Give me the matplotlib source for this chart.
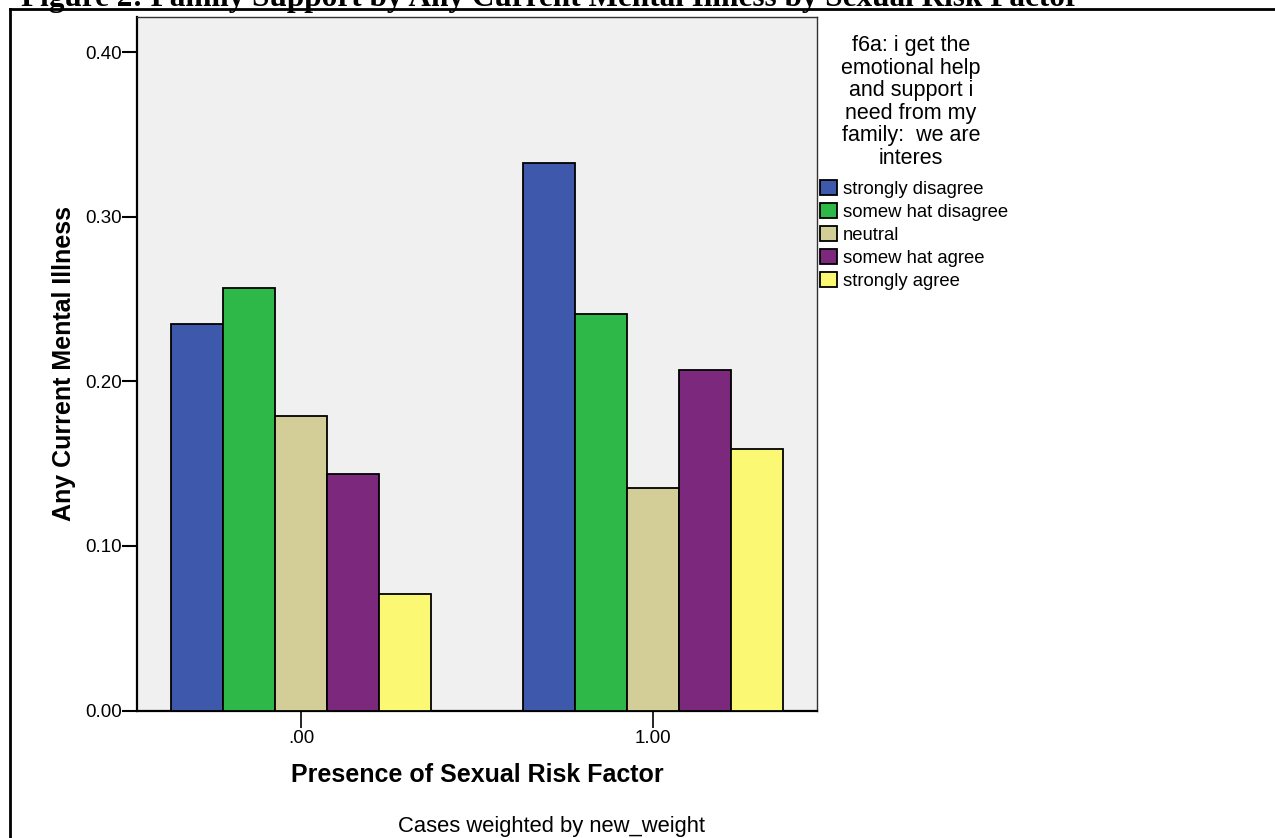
import matplotlib
matplotlib.use('Agg')
import matplotlib.pyplot as plt
from matplotlib.lines import Line2D
import numpy as np

plt.rcParams['font.family'] = ['Liberation Sans', 'DejaVu Sans']

# ---- data ----
groups = ['.00', '1.00']
categories = ['strongly disagree', 'somew hat disagree', 'neutral',
              'somew hat agree', 'strongly agree']
strongly_disagree = [0.235, 0.333]
somewhat_disagree = [0.257, 0.241]
neutral = [0.179, 0.135]
somewhat_agree = [0.144, 0.207]
strongly_agree = [0.071, 0.159]
series = [strongly_disagree, somewhat_disagree, neutral, somewhat_agree, strongly_agree]
colors = ['#3E58AC', '#2EB848', '#D3CE97', '#7B287D', '#FBF873']
yticks = [0.0, 0.1, 0.2, 0.3, 0.4]
ytick_labels = ['0.00', '0.10', '0.20', '0.30', '0.40']

legend_title = "f6a: i get the\nemotional help\nand support i\nneed from my\nfamily:  we are\ninteres"

W, H = 1275, 838
fig = plt.figure(figsize=(W / 100, H / 100), dpi=100)
fig.patch.set_facecolor('white')

ax_l, ax_r, ax_b, ax_t = 137.3, 817.3, 710.5, 17.3
ax = fig.add_axes([ax_l / W, 1 - ax_b / H, (ax_r - ax_l) / W, (ax_b - ax_t) / H])
ax.set_facecolor('#F0F0F0')

x = np.arange(len(groups))
bw = 0.1479
handles = []
for i, (vals, c, lab) in enumerate(zip(series, colors, categories)):
    b = ax.bar(x + (i - 2) * bw, vals, width=bw, color=c, edgecolor='black',
               linewidth=1.3, label=lab, zorder=3)
    handles.append(b)

ax.set_xlim(-0.466, 1.4675)
ax.set_ylim(0, 0.4213)
ax.set_yticks(yticks)
ax.set_yticklabels(ytick_labels)
ax.set_xticks(x)
ax.set_xticklabels(groups)
ax.tick_params(axis='y', length=11, width=1.5, pad=0, labelsize=13.5, colors='black')
ax.tick_params(axis='x', length=12, width=1.2, pad=2, labelsize=13.5, colors='black')

for s in ['left', 'bottom']:
    ax.spines[s].set_linewidth(1.6)
    ax.spines[s].set_color('black')
for s in ['top', 'right']:
    ax.spines[s].set_linewidth(1.0)
    ax.spines[s].set_color('#333333')

ax.set_xlabel('Presence of Sexual Risk Factor', fontsize=18, fontweight='bold', va='baseline')
ax.xaxis.set_label_coords(0.5, (ax_b - 782) / (ax_b - ax_t))
ax.set_ylabel('Any Current Mental Illness', fontsize=18, fontweight='bold', va='center')
ax.yaxis.set_label_coords((64.5 - ax_l) / (ax_r - ax_l), 0.5)

# legend
leg = ax.legend(handles=handles, labels=categories, loc='upper left',
                bbox_to_anchor=(820 / W, 1 - 180 / H), bbox_transform=fig.transFigure,
                frameon=False, borderpad=0, borderaxespad=0, handlelength=0.92,
                handleheight=0.86, handletextpad=0.3, labelspacing=0.28, fontsize=13.3)
fig.text(911 / W, 1 - 35 / H, legend_title, ha='center', va='top', fontsize=15.5,
         linespacing=1.1, multialignment='center')

# footnote
fig.text(552 / W, 1 - 832 / H, 'Cases weighted by new_weight', ha='center',
         va='baseline', fontsize=15.8)

# page frame and clipped caption
fig.add_artist(Line2D([10 / W, 1], [1 - 9 / H, 1 - 9 / H], transform=fig.transFigure,
                      color='black', lw=2))
fig.add_artist(Line2D([10 / W, 10 / W], [0, 1 - 9 / H], transform=fig.transFigure,
                      color='black', lw=2))
fig.text(21 / W, 1 - 6 / H,
         'Figure 2: Family Support by Any Current Mental Illness by Sexual Risk Factor',
         fontfamily='Liberation Serif', fontweight='bold', fontsize=22.5,
         ha='left', va='baseline')

fig.savefig('out.png', dpi=100)
